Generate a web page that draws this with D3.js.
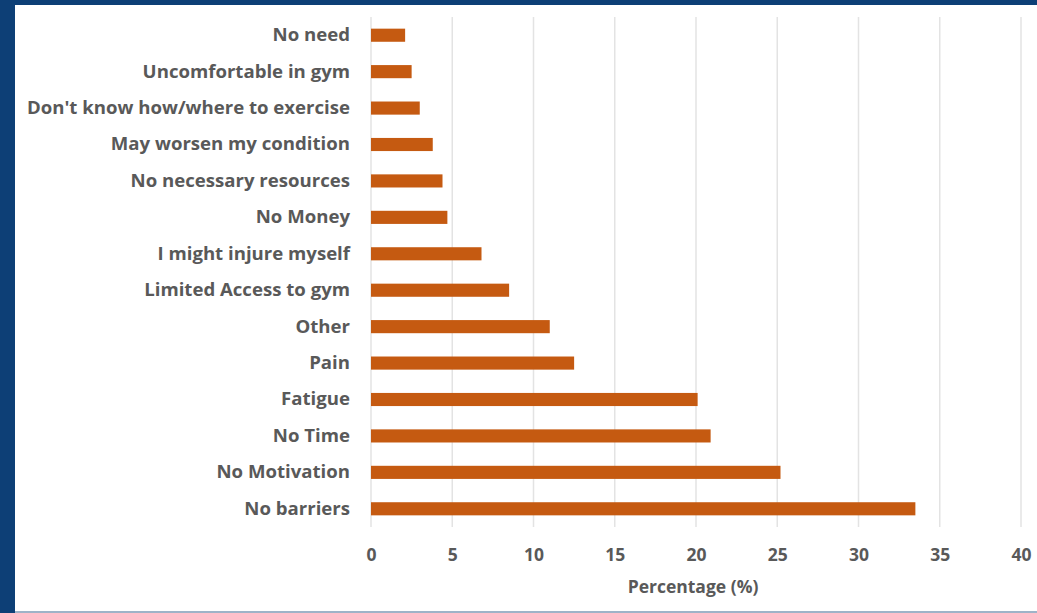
<!DOCTYPE html>
<html>
<head>
<meta charset="utf-8">
<script src="https://cdn.jsdelivr.net/npm/d3@7"></script>
<style>
  body { margin: 0; background: #0d3f76; }
  svg { display: block; }
  text { font-family: "Open Sans", Lato, sans-serif; fill: #595959; }
</style>
</head>
<body>
<svg width="1037" height="613"></svg>
<script>
// barriers to exercise, top to bottom as drawn
var categories = ["No need", "Uncomfortable in gym", "Don't know how/where to exercise",
  "May worsen my condition", "No necessary resources", "No Money", "I might injure myself",
  "Limited Access to gym", "Other", "Pain", "Fatigue", "No Time", "No Motivation", "No barriers"];
var percentages = [2.1, 2.5, 3.0, 3.8, 4.4, 4.7, 6.8, 8.5, 11.0, 12.5, 20.1, 20.9, 25.2, 33.5];
var xTicks = [0, 5, 10, 15, 20, 25, 30, 35, 40];

var labelFont = "'Open Sans', Lato, sans-serif";
var svg = d3.select("svg");

// white panel inside the blue frame
svg.append("rect")
  .attr("x", 15).attr("y", 5)
  .attr("width", 1022).attr("height", 606)
  .attr("fill", "white");
svg.append("rect")
  .attr("x", 15).attr("y", 611)
  .attr("width", 1022).attr("height", 2)
  .attr("fill", "#9fb3c8");

var x = d3.scaleLinear().domain([0, 40]).range([371, 1021]);
var y = d3.scaleBand().domain(categories).range([17, 527]).paddingInner(0.64).paddingOuter(0.32);

// gridlines
svg.append("g")
  .selectAll("line")
  .data(xTicks)
  .enter()
  .append("line")
  .attr("x1", function(d) { return x(d); })
  .attr("x2", function(d) { return x(d); })
  .attr("y1", 17)
  .attr("y2", 527)
  .attr("stroke", "#e3e3e3")
  .attr("stroke-width", 1.5);

// bars
svg.append("g")
  .selectAll("rect")
  .data(percentages)
  .enter()
  .append("rect")
  .attr("x", x(0))
  .attr("y", function(d, i) { return y(categories[i]); })
  .attr("width", function(d) { return x(d) - x(0); })
  .attr("height", y.bandwidth())
  .attr("fill", "#c55a11");

// category labels
var yAxis = d3.axisLeft(y).tickSize(0).tickPadding(21);
svg.append("g")
  .attr("transform", "translate(" + x(0) + ",0)")
  .call(yAxis)
  .call(function(g) { g.select(".domain").remove(); })
  .selectAll("text")
  .attr("font-size", "18.6px")
  .attr("font-weight", "bold")
  .style("font-family", labelFont)
  .attr("fill", "#595959");

// x tick labels
var xAxis = d3.axisBottom(x).tickValues(xTicks).tickSize(0).tickPadding(22);
svg.append("g")
  .attr("transform", "translate(0,527)")
  .call(xAxis)
  .call(function(g) { g.select(".domain").remove(); })
  .selectAll("text")
  .attr("font-size", "17.5px")
  .attr("font-weight", "bold")
  .style("font-family", labelFont)
  .attr("fill", "#595959");

svg.append("text")
  .attr("x", x(20) - 3)
  .attr("y", 593)
  .attr("text-anchor", "middle")
  .attr("font-size", "17.5px")
  .attr("font-weight", "bold")
  .style("font-family", labelFont)
  .text("Percentage (%)");
</script>
</body>
</html>
